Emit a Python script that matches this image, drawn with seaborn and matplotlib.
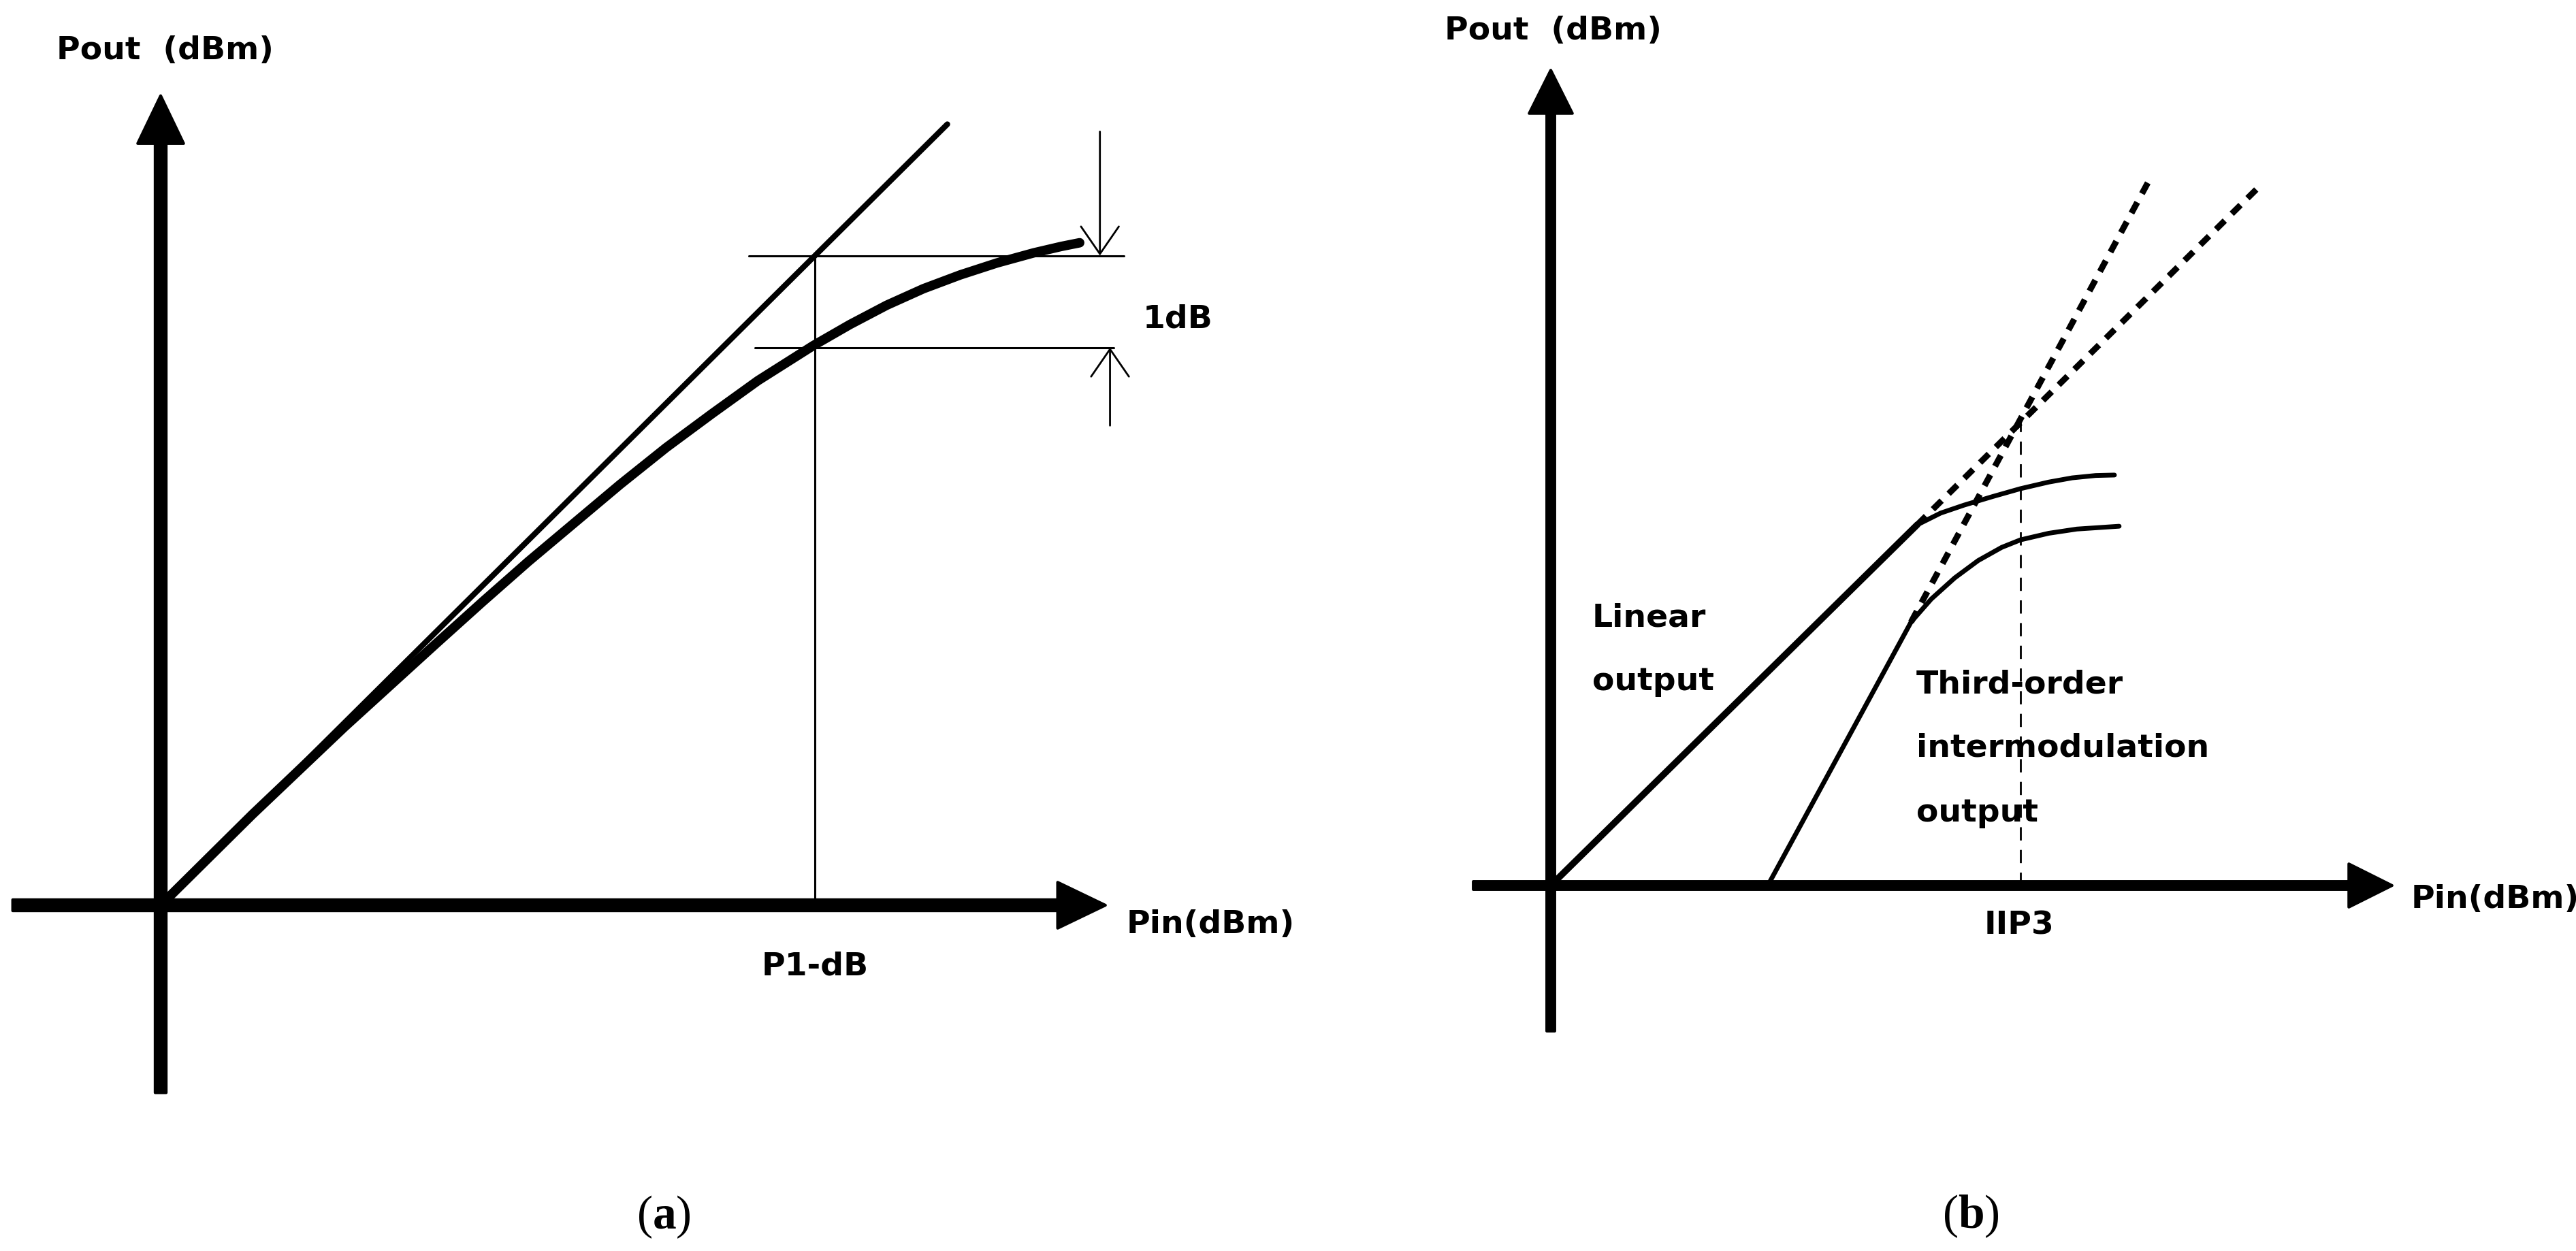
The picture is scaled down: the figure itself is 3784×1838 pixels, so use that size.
import numpy as np
import pandas as pd
import matplotlib
matplotlib.use("Agg")
import matplotlib.pyplot as plt
import seaborn as sns

# ---------------- data: panel (a) – 1 dB compression ----------------
a_linear_pin = [0.0, 8.56]
a_linear_pout = [0.0, 8.50]
a_curve_pin = [0.0, 1.0, 2.0, 3.0, 3.5, 4.0, 4.5, 5.0, 5.5, 6.0, 6.5, 7.1, 7.5, 7.9, 8.3, 8.7, 9.1, 9.5, 9.8, 10.0]
a_curve_pout = [0.0, 0.99, 1.94, 2.85, 3.30, 3.74, 4.16, 4.58, 4.98, 5.35, 5.71, 6.09, 6.32, 6.53, 6.71, 6.86, 6.99, 7.10, 7.17, 7.21]
a_p1db = 7.12            # input 1-dB compression point
a_lin_level = 7.07       # linear output level at P1dB
a_comp_level = 6.07      # compressed output level (1 dB lower)
a_hline1_x = [6.40, 10.48]
a_hline2_x = [6.47, 10.37]
a_arrow_down = [10.22, 8.42]   # x, start y
a_arrow_up = [10.33, 5.22]     # x, start y
a_xaxis = [-1.61, 10.28]
a_yaxis = [-2.04, 8.81]

# ---------------- data: panel (b) – IIP3 ----------------
b_lin_pin = [0.0, 7.8]
b_lin_pout = [0.0, 7.68]
b_fund_pin = [7.8, 8.3, 8.8, 9.4, 10.0, 10.6, 11.1, 11.6, 12.0]
b_fund_pout = [7.68, 7.93, 8.10, 8.28, 8.45, 8.59, 8.68, 8.73, 8.74]
b_lin_ext_pin = [7.8, 15.07]
b_lin_ext_pout = [7.68, 14.87]
b_im3_pin = [4.62, 7.67]
b_im3_pout = [0.0, 5.61]
b_im3_ext_pin = [7.67, 12.80]
b_im3_ext_pout = [5.61, 15.13]
b_im3_curve_pin = [7.67, 8.1, 8.6, 9.1, 9.6, 10.0, 10.6, 11.2, 12.1]
b_im3_curve_pout = [5.61, 6.10, 6.55, 6.92, 7.20, 7.36, 7.50, 7.59, 7.65]
b_iip3 = 10.0
b_iip3_pout = 9.88
b_xaxis = [-1.65, 17.91]
b_yaxis = [-3.10, 17.36]

# ---------------- layout ----------------
W, H, DPI = 3784, 1838, 100
A_ORIGIN = (236, 1330)   # pixel position of panel (a) origin (from top-left)
A_SCALE = 135.0          # px per unit
B_ORIGIN = (2278, 1301)
B_SCALE = 69.0
INK = '#000000'

sns.set_theme(style="white")
plt.rcParams['font.family'] = ['DejaVu Sans']
plt.rcParams['mathtext.fontset'] = 'custom'
plt.rcParams['mathtext.rm'] = 'Liberation Serif'
plt.rcParams['mathtext.bf'] = 'Liberation Serif:bold'
plt.rcParams['mathtext.it'] = 'Liberation Serif:italic'

fig = plt.figure(figsize=(W / DPI, H / DPI), dpi=DPI)
fig.patch.set_facecolor('white')


def make_ax(origin, scale):
    ax = fig.add_axes([0, 0, 1, 1])
    ax.set_facecolor('none')
    ox, oy = origin
    ax.set_xlim(-ox / scale, (W - ox) / scale)
    ax.set_ylim(-(H - oy) / scale, oy / scale)
    ax.axis('off')
    return ax


LBL = dict(fontsize=34, fontweight='bold', color=INK, family='DejaVu Sans')

# ================= panel (a) =================
axa = make_ax(A_ORIGIN, A_SCALE)
axa.arrow(a_xaxis[0], 0, a_xaxis[1] - a_xaxis[0], 0, width=0.12, head_width=0.50,
          head_length=0.52, length_includes_head=True, fc=INK, ec=INK, lw=3,
          joinstyle='round', zorder=3)
axa.arrow(0, a_yaxis[0], 0, a_yaxis[1] - a_yaxis[0], width=0.12, head_width=0.50,
          head_length=0.52, length_includes_head=True, fc=INK, ec=INK, lw=3,
          joinstyle='round', zorder=3)

df_lin_a = pd.DataFrame({'Pin': a_linear_pin, 'Pout': a_linear_pout})
df_cur_a = pd.DataFrame({'Pin': a_curve_pin, 'Pout': a_curve_pout})
sns.lineplot(data=df_lin_a, x='Pin', y='Pout', ax=axa, color=INK, lw=6.0,
             estimator=None, sort=False, solid_capstyle='round')
sns.lineplot(data=df_cur_a, x='Pin', y='Pout', ax=axa, color=INK, lw=10.0,
             estimator=None, sort=False, solid_capstyle='round', solid_joinstyle='round')
axa.set_xlabel(''); axa.set_ylabel('')

axa.plot(a_hline1_x, [a_lin_level, a_lin_level], color=INK, lw=2.2)
axa.plot(a_hline2_x, [a_comp_level, a_comp_level], color=INK, lw=2.2)
axa.plot([a_p1db, a_p1db], [0, a_lin_level], color=INK, lw=2.2)
arr = dict(arrowstyle='->,head_length=1.45,head_width=1.0', lw=2.0, color=INK,
           shrinkA=0, shrinkB=0, mutation_scale=20)
axa.annotate('', xy=(a_arrow_down[0], a_lin_level), xytext=(a_arrow_down[0], a_arrow_down[1]),
             arrowprops=arr, annotation_clip=False)
axa.annotate('', xy=(a_arrow_up[0], a_comp_level), xytext=(a_arrow_up[0], a_arrow_up[1]),
             arrowprops=arr, annotation_clip=False)

axa.text(0.05, 9.30, 'Pout  (dBm)', ha='center', va='center', **LBL)
axa.text(10.51, -0.21, 'Pin(dBm)', ha='left', va='center', **LBL)
axa.text(a_p1db, -0.67, 'P1-dB', ha='center', va='center', **LBL)
axa.text(11.07, 6.38, '1dB', ha='center', va='center', **LBL)

# ================= panel (b) =================
axb = make_ax(B_ORIGIN, B_SCALE)
axb.arrow(b_xaxis[0], 0, b_xaxis[1] - b_xaxis[0], 0, width=0.17, head_width=0.92,
          head_length=0.92, length_includes_head=True, fc=INK, ec=INK, lw=3,
          joinstyle='round', zorder=3)
axb.arrow(0, b_yaxis[0], 0, b_yaxis[1] - b_yaxis[0], width=0.17, head_width=0.92,
          head_length=0.92, length_includes_head=True, fc=INK, ec=INK, lw=3,
          joinstyle='round', zorder=3)

sns.lineplot(x=b_lin_pin, y=b_lin_pout, ax=axb, color=INK, lw=7.0, estimator=None,
             sort=False, solid_capstyle='round')
sns.lineplot(x=b_fund_pin, y=b_fund_pout, ax=axb, color=INK, lw=5.0, estimator=None,
             sort=False, solid_capstyle='round', solid_joinstyle='round')
sns.lineplot(x=b_im3_pin, y=b_im3_pout, ax=axb, color=INK, lw=5.0, estimator=None,
             sort=False, solid_capstyle='round')
sns.lineplot(x=b_im3_curve_pin, y=b_im3_curve_pout, ax=axb, color=INK, lw=5.0,
             estimator=None, sort=False, solid_capstyle='round', solid_joinstyle='round')
axb.plot(b_lin_ext_pin, b_lin_ext_pout, color=INK, lw=6.5, dashes=(2.0, 1.6))
axb.plot(b_im3_ext_pin, b_im3_ext_pout, color=INK, lw=6.5, dashes=(2.0, 1.6))
axb.plot([b_iip3, b_iip3], [0, b_iip3_pout], color=INK, lw=2.0, dashes=(7, 5))
axb.set_xlabel(''); axb.set_ylabel('')

axb.text(0.05, 18.2, 'Pout  (dBm)', ha='center', va='center', **LBL)
axb.text(18.32, -0.29, 'Pin(dBm)', ha='left', va='center', **LBL)
axb.text(9.97, -0.86, 'IIP3', ha='center', va='center', **LBL)
axb.text(0.88, 5.51, 'Linear', ha='left', va='baseline', **LBL)
axb.text(0.88, 4.16, 'output', ha='left', va='baseline', **LBL)
axb.text(7.78, 4.10, 'Third-order', ha='left', va='baseline', **LBL)
axb.text(7.78, 2.74, 'intermodulation', ha='left', va='baseline', **LBL)
axb.text(7.78, 1.36, 'output', ha='left', va='baseline', **LBL)

fig.text(975 / W, 1 - 1788 / H, r'$(\mathbf{a})$', ha='center', va='center', fontsize=50, color=INK)
fig.text(2895 / W, 1 - 1787 / H, r'$(\mathbf{b})$', ha='center', va='center', fontsize=50, color=INK)

fig.savefig('out.png', dpi=DPI, facecolor='white')
